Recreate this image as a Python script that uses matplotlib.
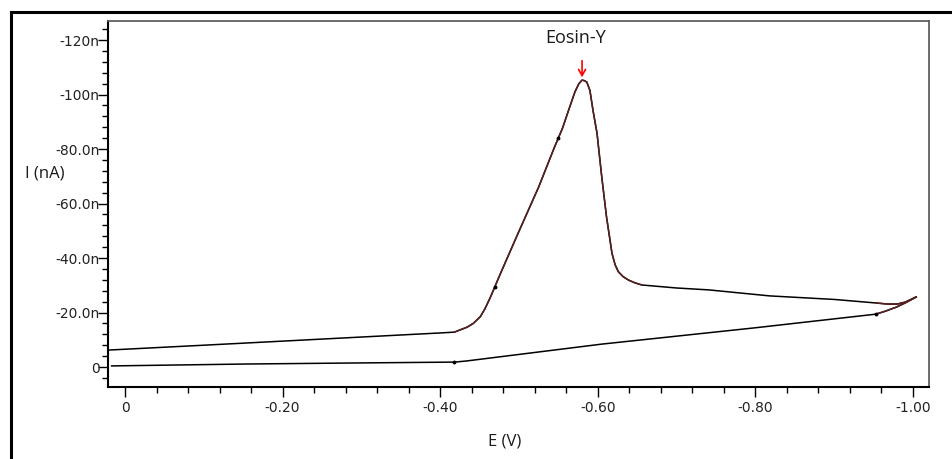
import matplotlib.pyplot as plt
from matplotlib.lines import Line2D
import numpy as np

# forward scan (upper curve), potential in V, current in nA
E_fwd = [0.022, -0.10, -0.20, -0.30, -0.40, -0.418, -0.425, -0.434, -0.442, -0.451,
         -0.457, -0.464, -0.476, -0.499, -0.525, -0.545, -0.555, -0.563, -0.571, -0.576,
         -0.580, -0.583, -0.586, -0.590, -0.594, -0.599, -0.605, -0.611, -0.618, -0.622,
         -0.626, -0.632, -0.639, -0.647, -0.656, -0.70, -0.741, -0.818, -0.90, -0.953,
         -0.968, -0.980, -0.990, -1.004]
I_fwd = [-6.2, -8.0, -9.5, -11.0, -12.5, -12.8, -13.6, -14.6, -16.0, -18.5,
         -21.5, -25.8, -34.0, -49.2, -66.1, -80.7, -87.5, -94.3, -101.0, -104.0,
         -105.3, -105.1, -104.6, -101.5, -94.0, -85.8, -69.8, -55.2, -41.7, -37.5,
         -35.0, -33.2, -31.9, -30.9, -30.1, -29.0, -28.3, -26.1, -24.8, -23.5,
         -23.1, -23.1, -23.8, -25.7]

# return scan (lower curve)
E_rev = [-1.004, -0.990, -0.979, -0.965, -0.953, -0.80, -0.605, -0.433, -0.418, -0.30, -0.155, 0.017]
I_rev = [-25.7, -23.5, -22.0, -20.5, -19.4, -14.4, -8.4, -2.2, -1.8, -1.5, -1.1, -0.4]

# small baseline marks left by the software
mark_E = [-0.469, -0.550, -0.418, -0.953]
mark_I = [-29.3, -84.0, -1.8, -19.4]

xticks = [0, -0.2, -0.4, -0.6, -0.8, -1.0]
xlabels = ["0", "-0.20", "-0.40", "-0.60", "-0.80", "-1.00"]
yticks = [0, -20, -40, -60, -80, -100, -120]
ylabels = ["0", "-20.0n", "-40.0n", "-60.0n", "-80.0n", "-100n", "-120n"]

W, H = 953, 459
fig = plt.figure(figsize=(W / 100, H / 100), dpi=100)
ax = fig.add_axes([108 / W, 1 - 387 / H, (929 - 108) / W, (387 - 21) / H])

E_fwd = np.array(E_fwd)
I_fwd = np.array(I_fwd)
E_rev = np.array(E_rev)
I_rev = np.array(I_rev)

ax.plot(E_fwd, I_fwd, color="black", lw=1.1)
ax.plot(E_rev, I_rev, color="black", lw=1.1)

# peak region and turning point drawn in dark red, like the original
brown = "#5a2020"
m = (E_fwd <= -0.418) & (E_fwd >= -0.656)
ax.plot(E_fwd[m], I_fwd[m], color=brown, lw=1.1)
m = E_fwd <= -0.953
ax.plot(E_fwd[m], I_fwd[m], color=brown, lw=1.1)
m = E_rev <= -0.953
ax.plot(E_rev[m], I_rev[m], color=brown, lw=1.1)

ax.plot(mark_E, mark_I, "o", ms=1.8, color="black")

ax.set_xlim(0.0216, -1.0203)
ax.set_ylim(7.34, -127)

ax.set_xticks(xticks)
ax.set_xticklabels(xlabels)
ax.set_xticks(np.arange(0, -1.001, -0.04), minor=True)
ax.set_yticks(yticks)
ax.set_yticklabels(ylabels)
ax.set_yticks(np.arange(4, -128, -4), minor=True)

ax.tick_params(which="major", direction="out", length=7, width=1, labelsize=10, colors="black")
ax.tick_params(which="minor", direction="out", length=4.3, width=1, colors="black")
ax.tick_params(axis="y", which="major", pad=-1)
ax.tick_params(axis="x", which="major", pad=3)
for lbl in ax.get_xticklabels() + ax.get_yticklabels():
    lbl.set_color("#222222")

for s in ["left", "bottom"]:
    ax.spines[s].set_color("black")
    ax.spines[s].set_linewidth(1.5)
for s in ["top", "right"]:
    ax.spines[s].set_color("#606060")
    ax.spines[s].set_linewidth(1.3)

# peak annotation
ip = int(np.argmin(I_fwd))
ax.annotate("", xy=(E_fwd[ip], I_fwd[ip]), xytext=(0, 16), textcoords="offset points",
            arrowprops=dict(arrowstyle="->,head_length=0.45,head_width=0.25", color="red", lw=1.2))
ax.annotate("Eosin-Y", xy=(E_fwd[ip], I_fwd[ip]), xytext=(-4.3, 30.5), textcoords="offset points",
            ha="center", va="center", fontsize=13, family="Open Sans", color="#1a1a1a")

# axis titles
fig.text(45 / W, 1 - 173 / H, "I (nA)", ha="center", va="center", fontsize=12,
         family="Open Sans", color="#1a1a1a")
fig.text(505 / W, 1 - 441 / H, "E (V)", ha="center", va="center", fontsize=12,
         family="Open Sans", color="#1a1a1a")

# black frame of the screenshot (top and left only)
fig.add_artist(Line2D([11 / W, 1], [1 - 12 / H, 1 - 12 / H], color="black", lw=2.2,
                      transform=fig.transFigure))
fig.add_artist(Line2D([11 / W, 11 / W], [0, 1 - 12 / H], color="black", lw=2.2,
                      transform=fig.transFigure))

fig.savefig("out.png", dpi=100)
